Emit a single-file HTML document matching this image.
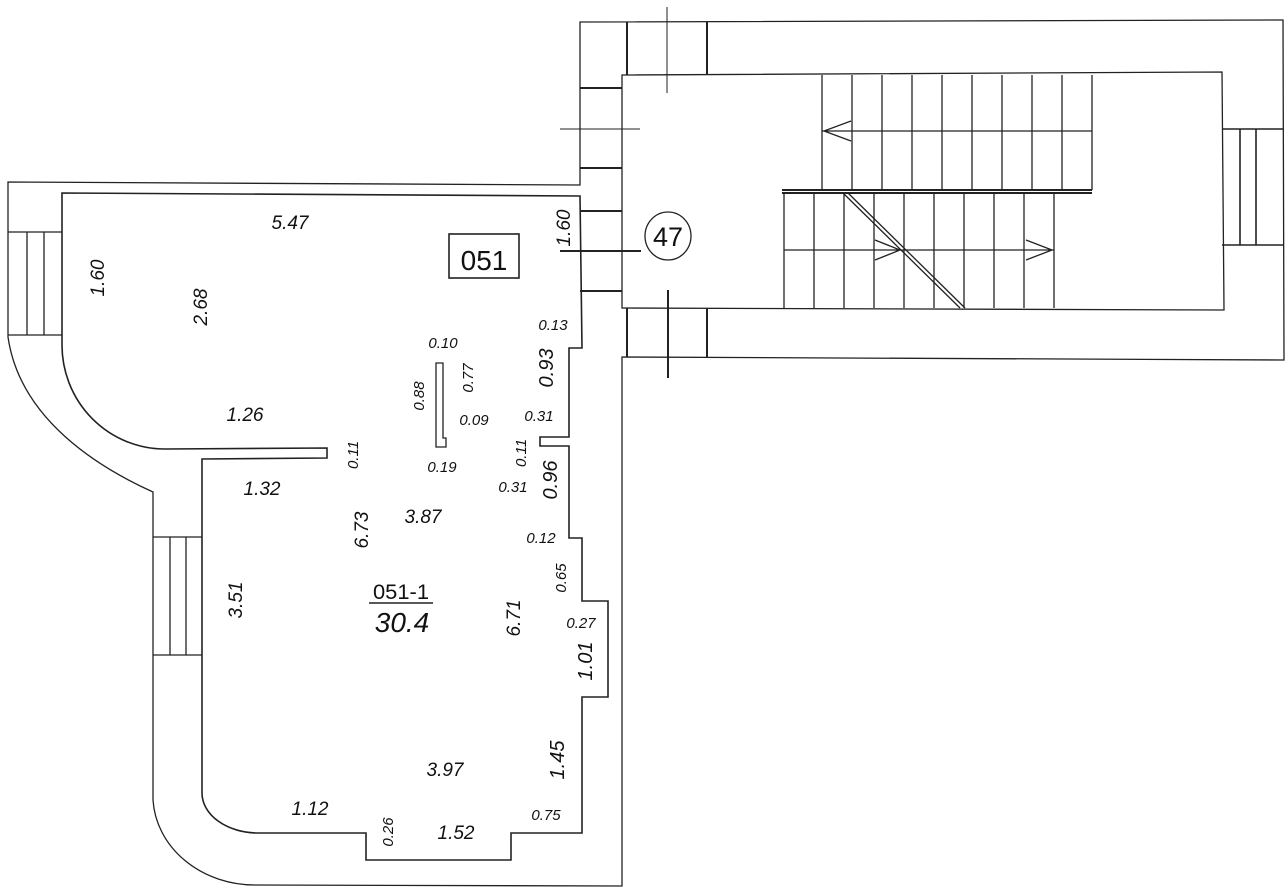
<!DOCTYPE html>
<html><head><meta charset="utf-8"><style>
html,body{margin:0;padding:0;background:#fff;}
svg{display:block;}
text{font-family:"Liberation Sans",sans-serif;fill:#111;}
.i{font-style:italic;}
</style></head><body>
<svg width="1285" height="893" viewBox="0 0 1285 893" xmlns="http://www.w3.org/2000/svg">
<g fill="none" stroke="#222" stroke-width="1.3">
<path d="M8,182 L580,185 L580,22 L1283,20 L1284,360 L622,357 L622,886 L255,885 A102,90 0 0 1 153,800 L153,492 C100,468 20,420 8,337 Z"/>
<path d="M62,193 L580,196 L582,348 L569,348 L569,437 L540,437 L540,446 L569,446 L569,538 L582,538 L582,601 L608,601 L608,697 L582,697 L582,833 L511,833 L511,860 L366,860 L366,833 L258,833 A56,40 0 0 1 202,793 L202,459 L327,458 L327,448 L165,449 A103,104 0 0 1 62,345 Z" stroke-width="1.6"/>
<path d="M8,232 L62,232 M8,335 L62,335 M27,232 L27,335 M44,232 L44,335"/>
<path d="M153,537 L202,537 M153,655 L202,655 M170,537 L170,655 M186,537 L186,655"/>
<path d="M622,75 L1222,72 L1224,310 L622,308 Z"/>
<path d="M580,88 L622,88 M580,168 L622,168 M580,211 L622,211 M580,291 L622,291" stroke-width="2"/>
<path d="M627,22 L627,75 M707,22 L707,75 M627,308 L627,357 M707,308 L707,357" stroke-width="2"/>
<path d="M667,7 L667,93 M560,129 L640,129" stroke-width="1"/>
<path d="M668,290 L668,378 M560,251 L641,251" stroke-width="2"/>
<path d="M1222,129 L1284,129 M1222,245 L1284,245 M1240,129 L1240,245 M1256,129 L1256,245" stroke-width="1.6"/>
<path d="M822,75 L822,190 M852,75 L852,190 M882,75 L882,190 M912,75 L912,190 M942,75 L942,190 M972,75 L972,190 M1002,75 L1002,190 M1032,75 L1032,190 M1062,75 L1062,190 M1092,75 L1092,190 M822,131 L1092,131 M851,121 L824,131 L851,141"/>
<path d="M782,190 L1092,190 M782,193 L1092,193" stroke-width="2"/>
<path d="M784,193 L784,308 M814,193 L814,308 M844,193 L844,308 M874,193 L874,308 M904,193 L904,308 M934,193 L934,308 M964,193 L964,308 M994,193 L994,308 M1024,193 L1024,308 M1054,193 L1054,308 M784,250 L1054,250 M875,240 L900,250 L875,260 M1026,240 L1052,250 L1026,260"/>
<path d="M843,193 L960,308 M848,193 L965,308"/>
<path d="M436,363 L443,363 L443,438 L446,438 L446,447 L436,447 Z"/>
<rect x="449" y="234" width="70" height="44" stroke-width="1.6"/>
<ellipse cx="668" cy="236" rx="23" ry="24"/>
<line x1="369" y1="603" x2="433" y2="603" stroke-width="1.6"/>
</g>
<g>
<text x="484" y="270" font-size="28" text-anchor="middle">051</text>
<text x="668" y="246" font-size="27" text-anchor="middle">47</text>
<text class="i" x="290" y="229" font-size="19" text-anchor="middle">5.47</text>
<text x="401" y="599" font-size="21" text-anchor="middle" textLength="56" lengthAdjust="spacingAndGlyphs">051-1</text>
<text class="i" x="402" y="632" font-size="28" text-anchor="middle">30.4</text>
<text class="i" x="423" y="523" font-size="19" text-anchor="middle">3.87</text>
<text class="i" x="445" y="776" font-size="19" text-anchor="middle">3.97</text>
<text class="i" x="310" y="815" font-size="19" text-anchor="middle">1.12</text>
<text class="i" x="456" y="839" font-size="19" text-anchor="middle">1.52</text>
<text class="i" x="546" y="820" font-size="15" text-anchor="middle">0.75</text>
<text class="i" x="553" y="330" font-size="15" text-anchor="middle">0.13</text>
<text class="i" x="443" y="348" font-size="15" text-anchor="middle">0.10</text>
<text class="i" x="474" y="425" font-size="15" text-anchor="middle">0.09</text>
<text class="i" x="539" y="421" font-size="15" text-anchor="middle">0.31</text>
<text class="i" x="442" y="472" font-size="15" text-anchor="middle">0.19</text>
<text class="i" x="513" y="492" font-size="15" text-anchor="middle">0.31</text>
<text class="i" x="541" y="543" font-size="15" text-anchor="middle">0.12</text>
<text class="i" x="581" y="628" font-size="15" text-anchor="middle">0.27</text>
<text class="i" x="245" y="421" font-size="19" text-anchor="middle" fill="#777">1.26</text>
<text class="i" x="262" y="495" font-size="19" text-anchor="middle" fill="#777">1.32</text>
<text class="i" font-size="19" text-anchor="middle" transform="translate(570,228) rotate(-90)">1.60</text>
<text class="i" font-size="19" text-anchor="middle" transform="translate(104,278) rotate(-90)">1.60</text>
<text class="i" font-size="19" text-anchor="middle" transform="translate(207,307) rotate(-90)">2.68</text>
<text class="i" font-size="20" text-anchor="middle" transform="translate(553,368) rotate(-90)">0.93</text>
<text class="i" font-size="15" text-anchor="middle" transform="translate(473,378) rotate(-90)">0.77</text>
<text class="i" font-size="15" text-anchor="middle" transform="translate(424,396) rotate(-90)">0.88</text>
<text class="i" font-size="15" text-anchor="middle" transform="translate(358,455) rotate(-90)">0.11</text>
<text class="i" font-size="15" text-anchor="middle" transform="translate(526,453) rotate(-90)">0.11</text>
<text class="i" font-size="20" text-anchor="middle" transform="translate(557,480) rotate(-90)">0.96</text>
<text class="i" font-size="19" text-anchor="middle" transform="translate(368,530) rotate(-90)">6.73</text>
<text class="i" font-size="15" text-anchor="middle" transform="translate(566,578) rotate(-90)">0.65</text>
<text class="i" font-size="19" text-anchor="middle" transform="translate(242,600) rotate(-90)">3.51</text>
<text class="i" font-size="19" text-anchor="middle" transform="translate(520,618) rotate(-90)">6.71</text>
<text class="i" font-size="20" text-anchor="middle" transform="translate(592,661) rotate(-90)">1.01</text>
<text class="i" font-size="20" text-anchor="middle" transform="translate(564,760) rotate(-90)">1.45</text>
<text class="i" font-size="15" text-anchor="middle" transform="translate(393,832) rotate(-90)">0.26</text>
</g>
</svg>
</body></html>
